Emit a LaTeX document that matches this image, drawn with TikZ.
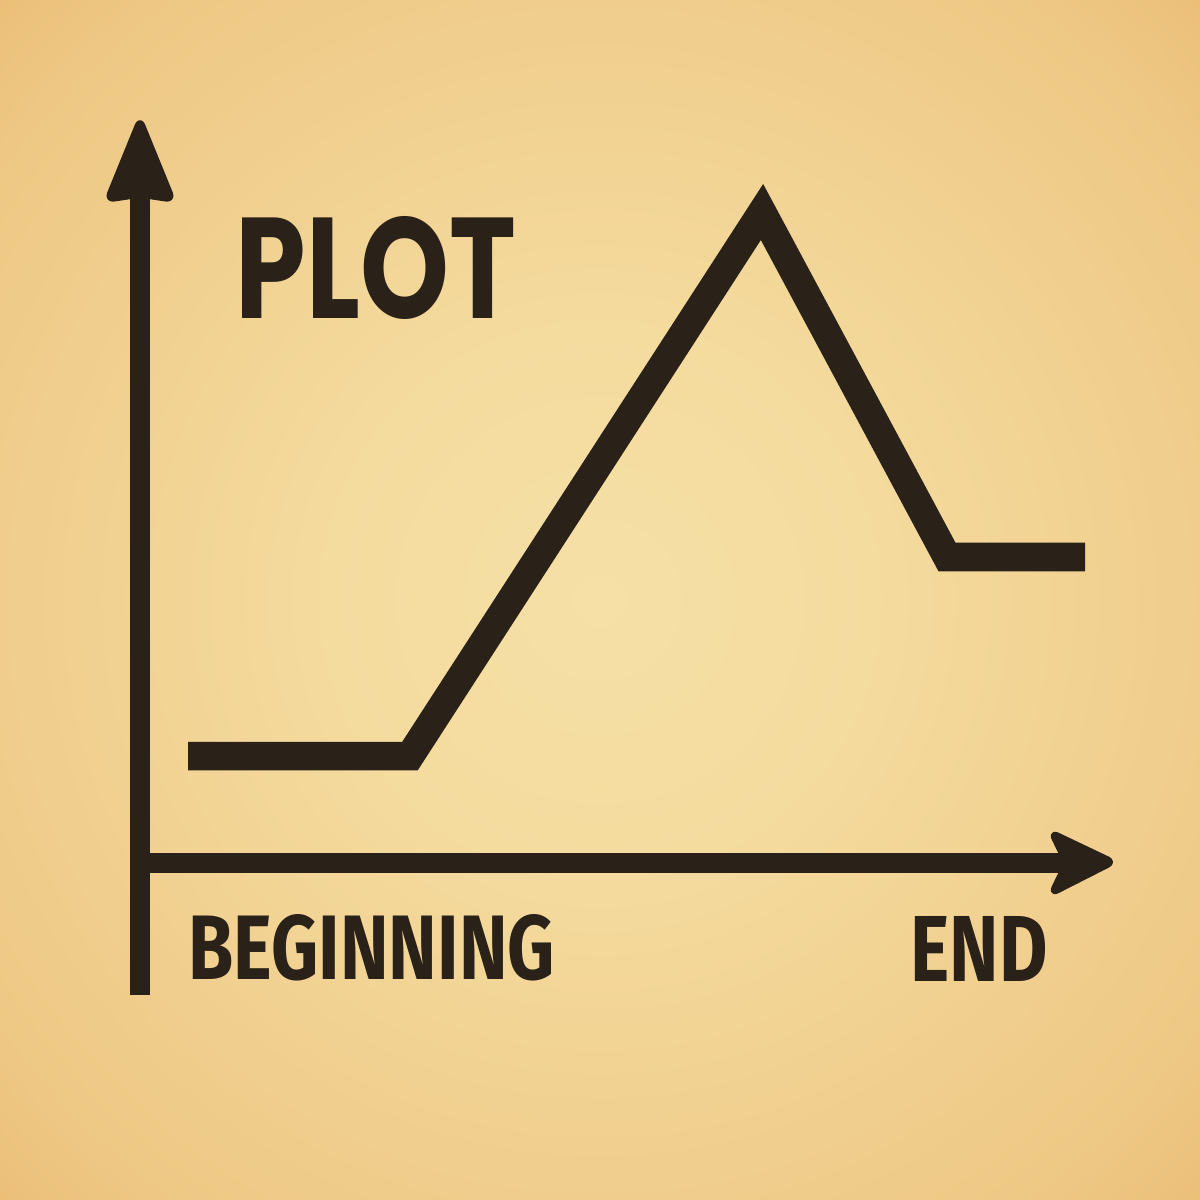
\documentclass[tikz,border=0pt]{standalone}
\usepackage{fontspec}
\newfontfamily\plotfont{Poppins}
\newfontfamily\labfont{Fira Sans}
\definecolor{ink}{HTML}{2A2118}
\definecolor{paperc}{HTML}{F6E0A6}
\definecolor{paperin}{HTML}{F4DB9E}
\definecolor{papermid}{HTML}{EEC784}
\definecolor{paperout}{HTML}{E4AC5C}
\pgfdeclareradialshading{paper}{\pgfpoint{0bp}{0bp}}{color(0bp)=(paperc); color(8bp)=(paperin); color(22bp)=(papermid); color(32bp)=(paperout); color(50bp)=(paperout)}
\begin{document}
\begin{tikzpicture}[x=0.01cm,y=-0.01cm,
  axisline/.style={ink, line width=0.2cm},
  arrowhead/.style={fill=ink, draw=ink, line width=1.5pt, line join=round, rounded corners=2pt},
  curve/.style={ink, line width=0.285cm, line join=miter, line cap=butt},
  lab/.style={anchor=south west, inner sep=0pt, text=ink}]
\useasboundingbox (0,0) rectangle (1200,1200);
\begin{scope}
\clip (0,0) rectangle (1200,1200);
\shade[shading=paper] (-250,-250) rectangle (1450,1450);
\end{scope}
% axes
\coordinate (ybot) at (140,995);
\coordinate (ytop) at (140,198);
\coordinate (xleft) at (131,863);
\coordinate (xright) at (1062,863);
\draw[axisline] (ybot) -- (ytop);
\draw[axisline] (xleft) -- (xright);
\coordinate (yt) at (140,119);
\coordinate (yr) at (173,200);
\coordinate (yn) at (140,195);
\coordinate (yl) at (107,200);
\filldraw[arrowhead] (yt) -- (yr) -- (yn) -- (yl) -- cycle;
\coordinate (xt) at (1114,862);
\coordinate (xb) at (1051,894);
\coordinate (xn) at (1066,863);
\coordinate (xa) at (1051,832);
\filldraw[arrowhead] (xt) -- (xb) -- (xn) -- (xa) -- cycle;
% plot line
\coordinate (p1) at (188,756);
\coordinate (p2) at (410,756);
\coordinate (p3) at (762,212);
\coordinate (p4) at (947,557);
\coordinate (p5) at (1085,557);
\draw[curve] (p1) -- (p2) -- (p3) -- (p4) -- (p5);
% labels
\node[lab] (plot) at (235,320) {\resizebox{2.8cm}{1.02cm}{\plotfont\bfseries PLOT}};
\node[lab] (beg) at (188,982) {\resizebox{3.66cm}{0.65cm}{\labfont\bfseries BEGINNING}};
\node[lab] (end) at (910,982) {\resizebox{1.37cm}{0.65cm}{\labfont\bfseries END}};
\end{tikzpicture}
\end{document}
